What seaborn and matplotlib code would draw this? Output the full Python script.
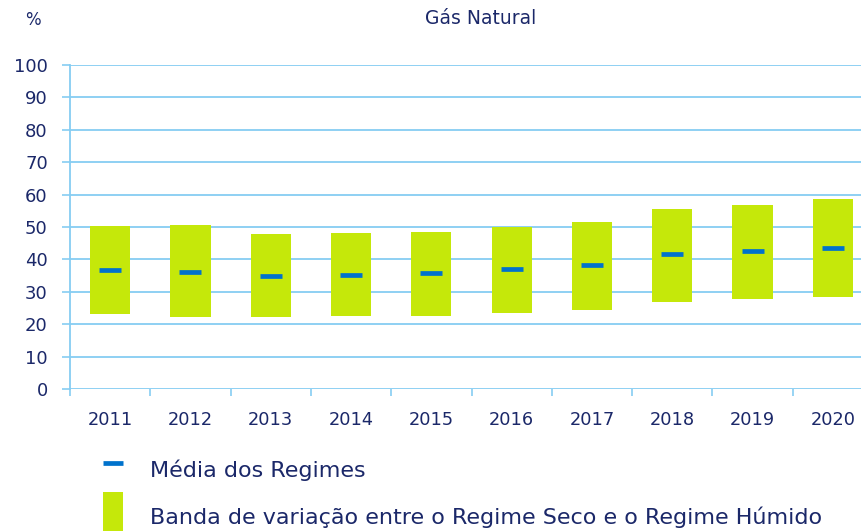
import matplotlib
matplotlib.use("Agg")
import matplotlib.pyplot as plt
import seaborn as sns
import numpy as np
import pandas as pd
from matplotlib.lines import Line2D
from matplotlib.patches import Rectangle

years = ["2011", "2012", "2013", "2014", "2015", "2016", "2017", "2018", "2019", "2020"]
band_low = [23.1, 22.3, 22.3, 22.6, 22.6, 23.6, 24.5, 26.9, 27.8, 28.4]
band_high = [50.3, 50.6, 47.8, 48.1, 48.5, 49.9, 51.5, 55.6, 56.8, 58.6]
mean_val = [36.8, 36.1, 34.8, 35.3, 35.7, 36.9, 38.4, 41.6, 42.6, 43.6]
yticks = [0, 10, 20, 30, 40, 50, 60, 70, 80, 90, 100]

title = "Gás Natural"
unit = "%"
legend_mean = "Média dos Regimes"
legend_band = "Banda de variação entre o Regime Seco e o Regime Húmido"

GREEN = "#C5E80A"
BLUE = "#0072CC"
GRID = "#86CDF2"
TEXT = "#1B2869"

sns.set_theme(style="white")
plt.rcParams["font.family"] = ["DejaVu Sans"]

df = pd.DataFrame({"year": years, "low": band_low, "high": band_high, "mean": mean_val})
df["span"] = df["high"] - df["low"]

fig = plt.figure(figsize=(8.62, 5.31), dpi=100)
W, H = 862, 531
ax = fig.add_axes([70 / W, 1 - 389 / H, 803 / W, 324 / H])

x = np.arange(len(years))
ax.bar(x, df["span"], bottom=df["low"], width=0.5, color=GREEN, zorder=2, linewidth=0)
ax.hlines(df["mean"], x - 0.137, x + 0.137, color=BLUE, lw=3.4, zorder=3, capstyle="butt")

ax.set_xlim(-0.5, len(years) - 0.5)
ax.set_ylim(0, 100)
ax.set_yticks(yticks)
ax.set_yticklabels([str(v) for v in yticks], color=TEXT, fontsize=13)
ax.set_xticks(x)
ax.set_xticklabels(years, color=TEXT, fontsize=12.8)
ax.tick_params(axis="x", length=0, pad=16)
ax.tick_params(axis="y", length=6, width=1.2, color=GRID, pad=10, left=True)

# category boundary ticks
ax.set_xticks(np.arange(len(years) + 1) - 0.5, minor=True)
ax.tick_params(axis="x", which="minor", length=5, width=1.2, color=GRID, bottom=True, direction="out")

for v in yticks:
    ax.axhline(v, color=GRID, lw=1.3, zorder=1)

for s in ["top", "right", "bottom"]:
    ax.spines[s].set_visible(False)
ax.spines["left"].set_color(GRID)
ax.spines["left"].set_linewidth(1.3)
ax.set_xlabel("")
ax.set_ylabel("")

fig.text(481 / W, 1 - 19 / H, title, ha="center", va="center", color=TEXT, fontsize=13.5)
fig.text(33 / W, 1 - 20 / H, unit, ha="center", va="center", color=TEXT, fontsize=12)

# legend
fig.add_artist(Line2D([103 / W, 123 / W], [1 - 463 / H] * 2, color=BLUE, lw=3.4, solid_capstyle="butt"))
fig.add_artist(Rectangle((103 / W, 0), 20 / W, 39 / H, color=GREEN, transform=fig.transFigure, lw=0))
fig.text(150 / W, 1 - 470 / H, legend_mean, ha="left", va="center", color=TEXT, fontsize=16)
fig.text(150 / W, 1 - 517 / H, legend_band, ha="left", va="center", color=TEXT, fontsize=16)

fig.savefig("out.png", dpi=100)
